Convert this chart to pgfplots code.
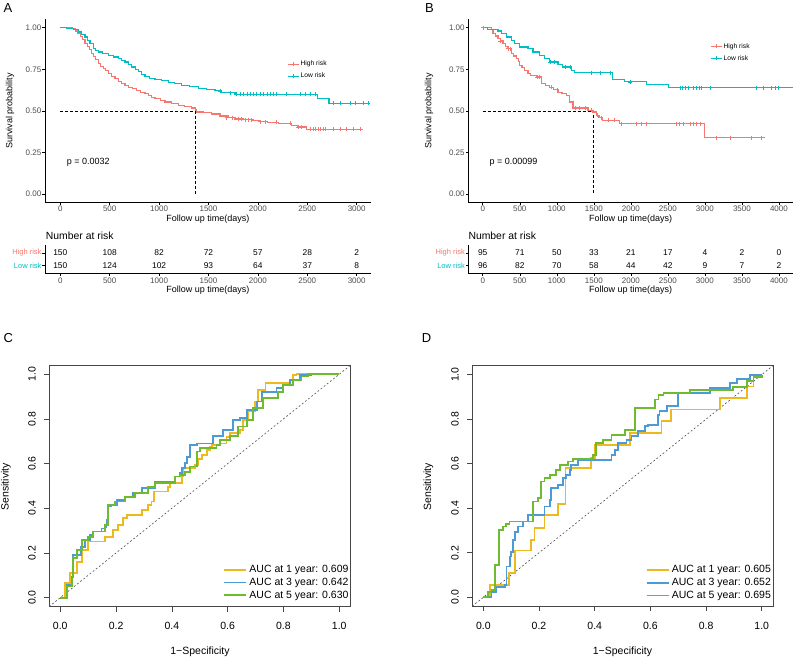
\documentclass[border=0pt]{standalone}
\usepackage{pgfplots}
\pgfplotsset{compat=1.18}
\usepackage{fontspec}
\setmainfont{Liberation Sans}
\definecolor{kmred}{RGB}{248,118,109}
\definecolor{kmteal}{RGB}{0,191,196}
\definecolor{rocy}{RGB}{236,185,30}
\definecolor{rocb}{RGB}{76,155,214}
\definecolor{rocg}{RGB}{110,187,48}
\definecolor{gtxt}{RGB}{77,77,77}
\definecolor{boxc}{RGB}{70,70,70}
\newcommand{\fs}[1]{\fontsize{#1}{#1}\selectfont}
\pgfplotsset{
  /pgf/number format/assume math mode=true,
  /pgf/number format/1000 sep={},
  kmaxis/.style={
    scale only axis, width=326pt, height=182.9pt,
    ymin=-0.05, ymax=1.05,
    axis x line*=bottom, axis y line*=left,
    axis line style={-, black, line width=0.5pt},
    tick align=inside, major tick length=-2.7pt,
    tick style={black, line width=0.5pt},
    ytick={0,0.25,0.5,0.75,1},
    yticklabels={0.00,0.25,0.50,0.75,1.00},
    yticklabel style={anchor=east, xshift=-3.5pt},
    xticklabel style={anchor=base, yshift=-9.6pt},
    tick label style={font=\fs{8}, text=gtxt, inner sep=0pt},
    legend style={draw=none, fill=none, font=\fs{6.7}, inner sep=0pt, row sep=0pt,
      nodes={inner ysep=2.75pt, inner xsep=1.5pt, text height=5pt, text depth=1.5pt}},
    legend cell align=left,
    legend image code/.code={\draw[mark repeat=2, mark phase=2, #1] plot coordinates {(0pt,0pt) (5.5pt,0pt) (11pt,0pt)};},
    clip=false,
  },
  rtaxis/.style={
    scale only axis, width=326pt, height=27.9pt,
    ymin=0.4, ymax=2.6, ytick={1,2},
    yticklabels={\textcolor{kmteal}{Low risk}, \textcolor{kmred}{High risk}},
    axis x line*=bottom, axis y line*=left,
    axis line style={-, black, line width=0.5pt},
    tick align=inside, major tick length=-2.7pt,
    tick style={black, line width=0.5pt},
    yticklabel style={anchor=east, font=\fs{7.5}, xshift=-3.3pt},
    xticklabel style={anchor=base, font=\fs{8}, text=gtxt, yshift=-10.2pt},
    tick label style={inner sep=0pt},
  },
  rocaxis/.style={
    scale only axis,
    xmin=-0.04, xmax=1.04, ymin=-0.04, ymax=1.04,
    axis line style={boxc, line width=0.7pt},
    tick align=inside, major tick length=-5pt,
    tick style={boxc, line width=0.6pt},
    xtick pos=left, ytick pos=left,
    xtick={0,0.2,0.4,0.6,0.8,1}, ytick={0,0.2,0.4,0.6,0.8,1},
    xticklabels={0.0,0.2,0.4,0.6,0.8,1.0},
    yticklabels={0.0,0.2,0.4,0.6,0.8,1.0},
    xticklabel style={anchor=base, yshift=-23.1pt},
    yticklabel style={xshift=-13.6pt, rotate=90, anchor=base},
    tick label style={font=\fs{10.5}, text=black, inner sep=0pt},
    legend style={draw=none, fill=none, font=\fs{10.5}, inner sep=0pt, row sep=0pt,
      nodes={inner ysep=1.25pt, inner xsep=2.5pt, text height=8pt, text depth=2.3pt}},
    legend cell align=left,
    legend image code/.code={\draw[#1] (0pt,0pt) -- (22pt,0pt);},
  },
  rocline/.style={const plot, line width=1.8pt},
}
\begin{document}
\begin{tikzpicture}
\useasboundingbox (0pt,0pt) rectangle (795pt,-658pt);
% ---------------- Panel A ----------------
\begin{axis}[kmaxis, at={(45pt,-202.3pt)}, anchor=south west,
  xmin=-155, xmax=3145, xtick={0,500,1000,1500,2000,2500,3000},
  legend style={at={(0.742,0.789)}, anchor=north west}]
\addplot[forget plot, black, line width=0.5pt, dash pattern=on 3pt off 2pt] coordinates {(0,0.5) (1370,0.5) (1370,0)};
\addplot[forget plot, const plot, kmred, line width=1.1pt] coordinates {
(0,1) (120,0.993) (150,0.98) (175,0.967) (200,0.947) (225,0.927) (250,0.907) (275,0.887) (300,0.867)
(320,0.847) (340,0.827) (360,0.807) (385,0.787) (410,0.767) (435,0.753) (460,0.74) (486,0.724)
(520,0.707) (554,0.693) (590,0.677) (621,0.663) (655,0.653) (689,0.643) (730,0.633) (773,0.623)
(815,0.613) (857,0.603) (890,0.59) (925,0.58) (958,0.573) (1010,0.563) (1060,0.553) (1130,0.543)
(1194,0.533) (1260,0.525) (1330,0.517) (1365,0.505) (1380,0.493) (1450,0.488) (1532,0.481)
(1616,0.469) (1700,0.46) (1768,0.451) (1850,0.447) (1950,0.44) (2021,0.435) (2100,0.43)
(2207,0.425) (2342,0.41) (2400,0.403) (2494,0.389) (3067,0.389)};
\addplot[forget plot, const plot, kmteal, line width=1.1pt] coordinates {
(0,1) (60,0.994) (130,0.987) (182,0.974) (215,0.96) (250,0.944) (275,0.925) (301,0.904) (334,0.874)
(360,0.862) (385,0.854) (430,0.845) (486,0.834) (540,0.824) (587,0.814) (620,0.804) (655,0.794)
(690,0.78) (722,0.764) (757,0.75) (790,0.734) (825,0.72) (857,0.704) (900,0.696) (958,0.69)
(1020,0.68) (1093,0.67) (1160,0.662) (1229,0.654) (1310,0.644) (1397,0.634) (1480,0.627)
(1566,0.62) (1633,0.609) (1768,0.599) (2600,0.573) (2720,0.546) (3130,0.546)};
\addplot[forget plot, only marks, mark=+, mark size=2pt, kmred, line width=0.5pt] coordinates {
(1683,0.46) (1740,0.46) (1802,0.451) (1836,0.451) (1869,0.447) (1903,0.447) (1937,0.447) (2021,0.435)
(2072,0.435) (2190,0.43) (2325,0.425) (2409,0.403) (2443,0.403) (2527,0.389) (2560,0.389) (2578,0.389)
(2610,0.389) (2628,0.389) (2660,0.389) (2679,0.389) (2763,0.389) (2831,0.389) (2898,0.389) (2966,0.389) (3033,0.389)};
\addplot[forget plot, only marks, mark=+, mark size=2pt, kmteal, line width=0.5pt] coordinates {
(1616,0.62) (1718,0.609) (1785,0.599) (1820,0.599) (1853,0.599) (1890,0.599) (1920,0.599) (1950,0.599)
(1988,0.599) (2020,0.599) (2055,0.599) (2090,0.599) (2122,0.599) (2160,0.599) (2190,0.599) (2291,0.599)
(2426,0.599) (2477,0.599) (2527,0.599) (2578,0.599) (2763,0.546) (2831,0.546) (2932,0.546) (2983,0.546)
(3067,0.546) (3118,0.546)};
\addlegendimage{kmred, mark=+, mark size=2pt, line width=1pt}
\addlegendentry{High risk}
\addlegendimage{kmteal, mark=+, mark size=2pt, line width=1pt}
\addlegendentry{Low risk}
\node[anchor=west, inner sep=0pt, font=\fs{9}] at (axis cs:65,0.19) {p = 0.0032};
\end{axis}
% ---------------- Panel B ----------------
\begin{axis}[kmaxis, at={(468.3pt,-202.3pt)}, anchor=south west, width=324.7pt,
  xmin=-195, xmax=4190, xtick={0,500,1000,1500,2000,2500,3000,3500,4000},
  legend style={at={(0.744,0.887)}, anchor=north west}]
\addplot[forget plot, black, line width=0.5pt, dash pattern=on 3pt off 2pt] coordinates {(0,0.5) (1493,0.5) (1493,0)};
\addplot[forget plot, const plot, kmred, line width=1.1pt] coordinates {
(0,1) (116,0.99) (139,0.964) (175,0.95) (206,0.934) (240,0.92) (274,0.904) (310,0.888) (341,0.874)
(386,0.844) (420,0.83) (454,0.814) (480,0.795) (499,0.774) (530,0.76) (567,0.744) (611,0.724)
(650,0.712) (724,0.704) (791,0.663) (850,0.655) (904,0.643) (960,0.628) (1016,0.613) (1070,0.603)
(1128,0.594) (1174,0.553) (1219,0.517) (1421,0.503) (1489,0.493) (1533,0.473) (1570,0.46)
(1623,0.443) (1849,0.423) (2990,0.339) (3812,0.339)};
\addplot[forget plot, const plot, kmteal, line width=1.1pt] coordinates {
(0,1) (68,0.99) (206,0.98) (251,0.964) (319,0.944) (386,0.924) (431,0.904) (499,0.884) (611,0.874)
(679,0.854) (769,0.834) (836,0.814) (904,0.794) (1016,0.778) (1083,0.764) (1196,0.744) (1241,0.73)
(1758,0.69) (1915,0.674) (2213,0.661) (2505,0.639) (4190,0.639)};
\addplot[forget plot, only marks, mark=+, mark size=2pt, kmred, line width=0.5pt] coordinates {
(10,1) (235,0.92) (340,0.874) (370,0.874) (730,0.704) (760,0.704) (930,0.643) (1000,0.628) (1250,0.517)
(1300,0.517) (1380,0.517) (1460,0.503) (1550,0.473) (1600,0.46) (1700,0.443) (1780,0.443) (1870,0.423)
(2078,0.423) (2146,0.423) (2213,0.423) (2618,0.423) (2660,0.423) (2707,0.423) (2798,0.423) (2840,0.423)
(2880,0.423) (2933,0.423) (3158,0.339) (3338,0.339) (3630,0.339) (3765,0.339)};
\addplot[forget plot, only marks, mark=+, mark size=2pt, kmteal, line width=0.5pt] coordinates {
(908,0.794) (960,0.794) (1115,0.764) (1180,0.764) (1471,0.73) (1583,0.73) (1718,0.73) (1988,0.674)
(2665,0.639) (2700,0.639) (2740,0.639) (2775,0.639) (2842,0.639) (2880,0.639) (2920,0.639) (2955,0.639)
(3067,0.639) (3697,0.639) (3787,0.639) (3900,0.639) (3950,0.639) (3990,0.639)};
\addlegendimage{kmred, mark=+, mark size=2pt, line width=1pt}
\addlegendentry{High risk}
\addlegendimage{kmteal, mark=+, mark size=2pt, line width=1pt}
\addlegendentry{Low risk}
\node[anchor=west, inner sep=0pt, font=\fs{9}] at (axis cs:89,0.19) {p = 0.00099};
\end{axis}
% ---------------- Risk tables ----------------
\begin{axis}[rtaxis, at={(45pt,-273.3pt)}, anchor=south west,
  xmin=-155, xmax=3145, xtick={0,500,1000,1500,2000,2500,3000}]
\addplot[draw=none, mark=none, nodes near coords, point meta=explicit symbolic,
  nodes near coords align={center},
  every node near coord/.append style={font=\fs{8.4}, text=black, inner sep=0pt}]
  table[meta=n, row sep=\\] {x y n\\
  0 2 150\\ 500 2 108\\ 1000 2 82\\ 1500 2 72\\ 2000 2 57\\ 2500 2 28\\ 3000 2 2\\
  0 1 150\\ 500 1 124\\ 1000 1 102\\ 1500 1 93\\ 2000 1 64\\ 2500 1 37\\ 3000 1 8\\};
\end{axis}
\begin{axis}[rtaxis, at={(468.3pt,-273.3pt)}, anchor=south west, width=324.7pt,
  xmin=-195, xmax=4190, xtick={0,500,1000,1500,2000,2500,3000,3500,4000}]
\addplot[draw=none, mark=none, nodes near coords, point meta=explicit symbolic,
  nodes near coords align={center},
  every node near coord/.append style={font=\fs{8.4}, text=black, inner sep=0pt}]
  table[meta=n, row sep=\\] {x y n\\
  0 2 95\\ 500 2 71\\ 1000 2 50\\ 1500 2 33\\ 2000 2 21\\ 2500 2 17\\ 3000 2 4\\ 3500 2 2\\ 4000 2 0\\
  0 1 96\\ 500 1 82\\ 1000 1 70\\ 1500 1 58\\ 2000 1 44\\ 2500 1 42\\ 3000 1 9\\ 3500 1 7\\ 4000 1 2\\};
\end{axis}
% ---------------- Panel C ----------------
\begin{axis}[rocaxis, at={(49.1pt,-606.6pt)}, anchor=south west, width=301.3pt, height=241.3pt,
  legend style={at={(0.577,0.18)}, anchor=north west}]
\addplot[forget plot, gray!60!black, line width=0.6pt, dash pattern=on 1.8pt off 2.2pt] coordinates {(-0.04,-0.04) (1.04,1.04)};
\addplot[rocline, rocy] coordinates {
(0,0) (0.017,0.064) (0.035,0.11) (0.059,0.161) (0.077,0.214) (0.1,0.251) (0.16,0.273) (0.19,0.303)
(0.208,0.326) (0.226,0.356) (0.238,0.37) (0.292,0.393) (0.315,0.415) (0.327,0.43) (0.337,0.475)
(0.387,0.497) (0.393,0.515) (0.435,0.542) (0.441,0.579) (0.483,0.594) (0.495,0.62) (0.507,0.639)
(0.525,0.66) (0.537,0.676) (0.543,0.684) (0.572,0.69) (0.596,0.72) (0.608,0.736) (0.644,0.75)
(0.656,0.795) (0.674,0.833) (0.698,0.878) (0.71,0.93) (0.736,0.96) (0.823,0.975) (0.835,0.997)
(0.847,1) (1,1)};
\addlegendentry{AUC at 1 year: 0.609}
\addplot[rocline, rocb] coordinates {
(0,0) (0.023,0.057) (0.041,0.094) (0.047,0.191) (0.074,0.228) (0.089,0.258) (0.106,0.281) (0.118,0.296)
(0.148,0.31) (0.16,0.318) (0.166,0.348) (0.17,0.408) (0.184,0.415) (0.202,0.438) (0.232,0.452)
(0.262,0.468) (0.292,0.49) (0.339,0.52) (0.411,0.542) (0.429,0.557) (0.435,0.579) (0.447,0.602)
(0.453,0.631) (0.465,0.684) (0.489,0.69) (0.548,0.724) (0.584,0.75) (0.62,0.796) (0.644,0.803)
(0.668,0.84) (0.704,0.878) (0.722,0.922) (0.775,0.937) (0.799,0.952) (0.823,0.975) (0.859,0.997)
(0.9,1) (1,1)};
\addlegendentry{AUC at 3 year: 0.642}
\addplot[rocline, rocg] coordinates {
(0,0) (0.023,0.05) (0.041,0.09) (0.047,0.176) (0.059,0.214) (0.077,0.258) (0.1,0.273) (0.118,0.296)
(0.16,0.326) (0.17,0.415) (0.196,0.43) (0.232,0.452) (0.268,0.468) (0.315,0.497) (0.339,0.515)
(0.411,0.542) (0.429,0.55) (0.447,0.564) (0.465,0.587) (0.489,0.654) (0.5,0.669) (0.56,0.684)
(0.572,0.706) (0.608,0.724) (0.638,0.766) (0.668,0.796) (0.692,0.848) (0.728,0.893) (0.781,0.922)
(0.799,0.952) (0.835,0.975) (0.865,0.99) (0.889,1) (1,1)};
\addlegendentry{AUC at 5 year: 0.630}
\end{axis}
% ---------------- Panel D ----------------
\begin{axis}[rocaxis, at={(472.2pt,-606.2pt)}, anchor=south west, width=300.7pt, height=240.5pt,
  legend style={at={(0.576,0.178)}, anchor=north west}]
\addplot[forget plot, gray!60!black, line width=0.6pt, dash pattern=on 1.8pt off 2.2pt] coordinates {(-0.04,-0.04) (1.04,1.04)};
\addplot[rocline, rocy] coordinates {
(0,0) (0.023,0.055) (0.091,0.108) (0.113,0.21) (0.172,0.258) (0.184,0.31) (0.22,0.37) (0.268,0.42)
(0.295,0.58) (0.386,0.625) (0.4,0.685) (0.526,0.738) (0.64,0.79) (0.675,0.843) (0.85,0.895)
(0.946,0.947) (0.97,0.99) (1,1)};
\addlegendentry{AUC at 1 year: 0.605}
\addplot[rocline, rocb] coordinates {
(0,0) (0.023,0) (0.029,0.025) (0.047,0.048) (0.077,0.055) (0.083,0.138) (0.095,0.183) (0.1,0.205)
(0.107,0.258) (0.113,0.295) (0.125,0.318) (0.143,0.34) (0.16,0.37) (0.22,0.408) (0.238,0.438)
(0.244,0.49) (0.268,0.505) (0.286,0.535) (0.298,0.55) (0.31,0.573) (0.316,0.595) (0.34,0.618)
(0.46,0.64) (0.472,0.663) (0.484,0.693) (0.514,0.708) (0.532,0.723) (0.556,0.745) (0.58,0.768)
(0.592,0.775) (0.627,0.82) (0.633,0.835) (0.659,0.858) (0.7,0.918) (0.814,0.94) (0.886,0.963)
(0.91,0.98) (0.958,1) (1,1)};
\addlegendentry{AUC at 3 year: 0.652}
\addplot[rocline, rocg] coordinates {
(0,0) (0.017,0.025) (0.029,0.033) (0.041,0.145) (0.055,0.303) (0.07,0.318) (0.082,0.33) (0.094,0.34)
(0.178,0.43) (0.196,0.445) (0.208,0.52) (0.22,0.535) (0.238,0.55) (0.262,0.573) (0.274,0.595)
(0.304,0.61) (0.322,0.62) (0.394,0.64) (0.406,0.693) (0.43,0.708) (0.46,0.73) (0.508,0.753)
(0.544,0.85) (0.617,0.888) (0.629,0.91) (0.647,0.918) (0.743,0.93) (0.898,0.945) (0.946,0.97)
(0.97,0.99) (1,1)};
\addlegendentry{AUC at 5 year: 0.695}
\end{axis}
% ---------------- Texts ----------------
\node[anchor=base west, inner sep=0pt, font=\fs{13}] at (3.3pt,-12.7pt) {A};
\node[anchor=base west, inner sep=0pt, font=\fs{13}] at (425pt,-12.7pt) {B};
\node[anchor=base west, inner sep=0pt, font=\fs{13}] at (3.3pt,-342.7pt) {C};
\node[anchor=base west, inner sep=0pt, font=\fs{13}] at (421.7pt,-342.7pt) {D};
\node[rotate=90, inner sep=0pt, font=\fs{9}] at (10pt,-110.9pt) {Survival probability};
\node[rotate=90, inner sep=0pt, font=\fs{9}] at (429pt,-110.9pt) {Survival probability};
\node[inner sep=0pt, font=\fs{9}] at (208pt,-219pt) {Follow up time(days)};
\node[inner sep=0pt, font=\fs{9}] at (630.7pt,-219pt) {Follow up time(days)};
\node[inner sep=0pt, font=\fs{9}] at (208pt,-290pt) {Follow up time(days)};
\node[inner sep=0pt, font=\fs{9}] at (630.7pt,-290pt) {Follow up time(days)};
\node[anchor=west, inner sep=0pt, font=\fs{10.4}] at (45.7pt,-235.7pt) {Number at risk};
\node[anchor=west, inner sep=0pt, font=\fs{10.4}] at (468.3pt,-235.7pt) {Number at risk};
\node[rotate=90, inner sep=0pt, font=\fs{10.5}] at (6pt,-486.7pt) {Sensitivity};
\node[rotate=90, inner sep=0pt, font=\fs{10.5}] at (428.5pt,-486.7pt) {Sensitivity};
\node[inner sep=0pt, font=\fs{10.5}] at (200pt,-651.7pt) {1−Specificity};
\node[inner sep=0pt, font=\fs{10.5}] at (622.5pt,-651.7pt) {1−Specificity};
\end{tikzpicture}
\end{document}
